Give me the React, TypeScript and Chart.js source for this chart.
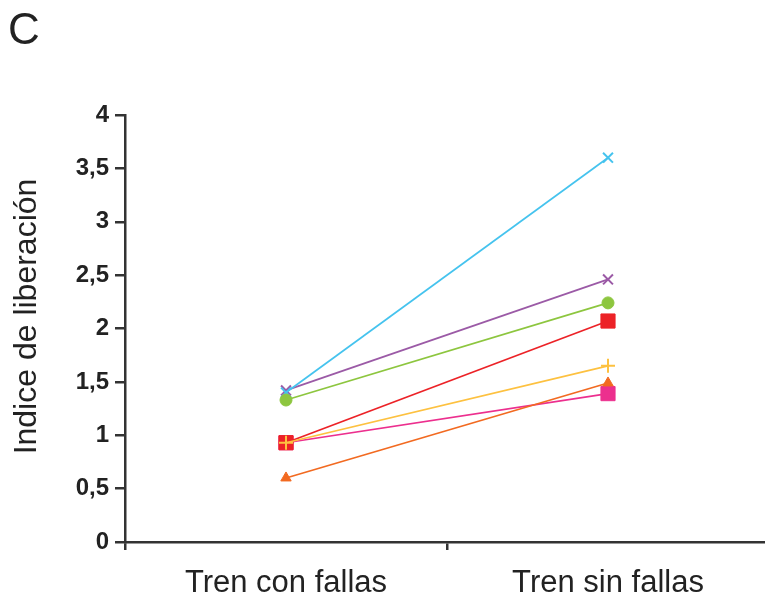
import React, { useEffect, useRef } from "react";
import { Chart, registerables } from "chart.js";

Chart.register(...registerables);

const categories = ["Tren con fallas", "Tren sin fallas"];
const yTicks = [0, 0.5, 1, 1.5, 2, 2.5, 3, 3.5, 4];

const cyanValues = [1.4, 3.6];
const purpleValues = [1.42, 2.46];
const greenValues = [1.33, 2.24];
const pinkValues = [0.93, 1.39];
const orangeValues = [0.6, 1.49];
const redValues = [0.93, 2.07];
const yellowValues = [0.93, 1.65];

const panelLetter = "C";
const yTitle = "Indice de liberación";

// The drawing surface runs a little past the visible frame so the x axis
// line continues to the right edge.
const VIEW_W = 765;
const VIEW_H = 599;
const CANVAS_W = 780;

const textPlugin = {
  id: "panelText",
  afterDraw(chart: any) {
    const { ctx } = chart;
    const yScale = chart.scales.y;
    ctx.save();
    ctx.fillStyle = "#222";
    ctx.font = "44px 'Liberation Sans', Arial, sans-serif";
    ctx.textAlign = "left";
    ctx.textBaseline = "alphabetic";
    ctx.fillText(panelLetter, 8, 44);
    ctx.translate(27, (yScale.top + yScale.bottom) / 2 - 12);
    ctx.rotate(-Math.PI / 2);
    ctx.font = "32px 'Liberation Sans', Arial, sans-serif";
    ctx.textAlign = "center";
    ctx.textBaseline = "middle";
    ctx.fillText(yTitle, 0, 0);
    ctx.restore();
  },
};

function series(label: string, data: number[], color: string, style: string, radius: number) {
  return {
    label,
    data,
    borderColor: color,
    backgroundColor: color,
    borderWidth: 1.7,
    pointStyle: style,
    pointRadius: radius,
    pointBorderWidth: style === "crossRot" || style === "cross" ? 2 : 1,
    pointBorderColor: color,
    pointBackgroundColor: color,
    fill: false,
    tension: 0,
  };
}

export default function App() {
  const canvasRef = useRef<HTMLCanvasElement>(null);

  useEffect(() => {
    if (!canvasRef.current) return;
    // Chart.js paints dataset 0 last, so the list runs from topmost to lowest.
    const chart = new Chart(canvasRef.current, {
      type: "line",
      data: {
        labels: categories,
        datasets: [
          series("yellow", yellowValues, "#fdc140", "cross", 7),
          series("red", redValues, "#ec2227", "rect", 10),
          series("orange", orangeValues, "#f26a21", "triangle", 6),
          series("pink", pinkValues, "#ec2f8e", "rect", 10),
          series("green", greenValues, "#8dc63f", "circle", 6),
          series("cyan", cyanValues, "#45c3ee", "crossRot", 7),
          series("purple", purpleValues, "#9b5aa6", "crossRot", 7),
        ] as any,
      },
      options: {
        animation: false,
        responsive: false,
        maintainAspectRatio: false,
        layout: { padding: { top: 115, left: 0, right: 0, bottom: 0 } },
        plugins: {
          legend: { display: false },
          tooltip: { enabled: false },
        },
        scales: {
          x: {
            type: "category",
            offset: true,
            grid: {
              offset: true,
              drawOnChartArea: false,
              drawTicks: true,
              tickLength: 8,
              color: "#333",
              lineWidth: 2.5,
            },
            border: { display: true, color: "#333", width: 2.5 },
            ticks: {
              color: "#222",
              padding: 15,
              font: { family: "'Liberation Sans', Arial, sans-serif", size: 31 },
            },
            afterFit(scale: any) {
              scale.height = 57;
              scale.paddingLeft = 0;
              scale.paddingRight = 0;
            },
          },
          y: {
            type: "linear",
            min: 0,
            max: 4,
            afterBuildTicks(scale: any) {
              scale.ticks = yTicks.map((v) => ({ value: v }));
            },
            grid: {
              drawOnChartArea: false,
              drawTicks: true,
              tickLength: 10,
              color: "#333",
              lineWidth: 2.5,
            },
            border: { display: true, color: "#333", width: 2.5 },
            ticks: {
              color: "#222",
              padding: 6,
              font: { family: "'Liberation Sans', Arial, sans-serif", size: 24, weight: "bold" },
              callback: (v: any) => String(v).replace(".", ","),
            },
            afterFit(scale: any) {
              scale.width = 125;
            },
          },
        },
      },
      plugins: [textPlugin],
    } as any);
    return () => chart.destroy();
  }, []);

  return (
    <div
      style={{
        position: "fixed",
        left: 0,
        top: 0,
        width: VIEW_W,
        height: VIEW_H,
        overflow: "hidden",
        background: "#fff",
      }}
    >
      <canvas
        ref={canvasRef}
        width={CANVAS_W}
        height={VIEW_H}
        style={{ width: CANVAS_W, height: VIEW_H, display: "block" }}
      />
    </div>
  );
}
